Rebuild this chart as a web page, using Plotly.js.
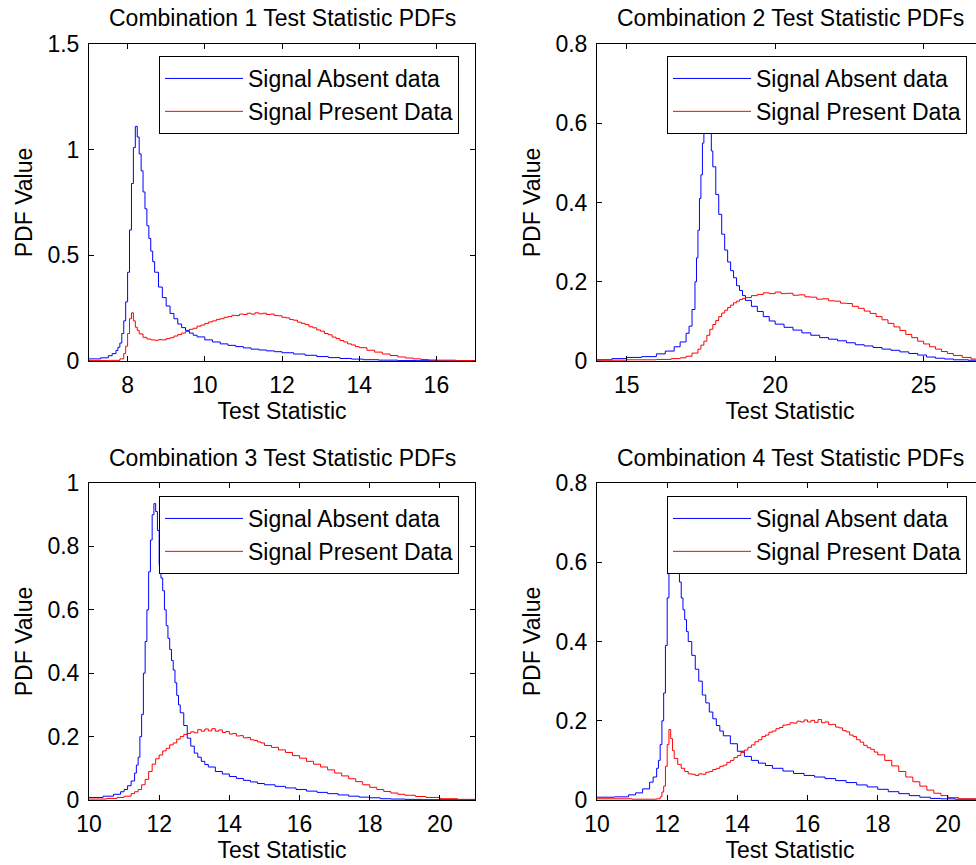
<!DOCTYPE html>
<html>
<head>
<meta charset="utf-8">
<script src="https://cdn.plot.ly/plotly-3.0.1.min.js"></script>
<style>
html,body{margin:0;padding:0;overflow:hidden;background:#ffffff;}
#chart{width:984px;height:865px;}
</style>
</head>
<body>
<div id="chart"></div>
<script>
// ---------------- data ----------------
const titles = ["Combination 1 Test Statistic PDFs", "Combination 2 Test Statistic PDFs",
                "Combination 3 Test Statistic PDFs", "Combination 4 Test Statistic PDFs"];
const seriesNames = ["Signal Absent data", "Signal Present Data"];
const xLabel = "Test Statistic";
const yLabel = "PDF Value";

// Combination 1
const c1AbsentX = [7.0, 7.3, 7.5, 7.6, 7.7, 7.75, 7.8, 7.85, 7.9, 7.95,
  8.0, 8.05, 8.1, 8.15, 8.2, 8.25, 8.3, 8.35, 8.4, 8.45,
  8.5, 8.55, 8.6, 8.65, 8.7, 8.8, 8.9, 9.0, 9.1, 9.2,
  9.3, 9.4, 9.5, 9.6, 9.7, 9.8, 10.0, 10.2, 10.4, 10.6,
  10.8, 11.0, 11.2, 11.4, 11.6, 11.8, 12.0, 12.3, 12.6, 12.9,
  13.2, 13.5, 13.8, 14.1, 14.5, 15.0, 15.5, 16.0, 17.0];
const c1AbsentY = [0.010, 0.015, 0.025, 0.035, 0.050, 0.065, 0.085, 0.130, 0.190, 0.280,
  0.420, 0.620, 0.840, 1.010, 1.110, 1.060, 0.980, 0.900, 0.800, 0.720,
  0.640, 0.580, 0.520, 0.470, 0.420, 0.350, 0.300, 0.260, 0.225, 0.200,
  0.175, 0.158, 0.145, 0.132, 0.122, 0.114, 0.100, 0.090, 0.081, 0.074,
  0.068, 0.062, 0.056, 0.052, 0.048, 0.044, 0.039, 0.033, 0.027, 0.021,
  0.016, 0.012, 0.009, 0.006, 0.004, 0.002, 0.0015, 0.001, 0.001];
const c1PresentX = [7.0, 7.5, 7.8, 7.9, 7.95, 8.0, 8.05, 8.1, 8.15, 8.2,
  8.25, 8.3, 8.4, 8.5, 8.6, 8.7, 8.8, 8.9, 9.0, 9.1,
  9.2, 9.3, 9.4, 9.5, 9.6, 9.7, 9.8, 9.9, 10.0, 10.1,
  10.2, 10.3, 10.4, 10.5, 10.6, 10.7, 10.8, 10.9, 11.0, 11.1,
  11.2, 11.3, 11.4, 11.5, 11.6, 11.7, 11.8, 11.9, 12.0, 12.1,
  12.2, 12.3, 12.4, 12.5, 12.6, 12.7, 12.8, 12.9, 13.0, 13.1,
  13.2, 13.3, 13.4, 13.5, 13.6, 13.7, 13.8, 13.9, 14.0, 14.2,
  14.4, 14.6, 14.8, 15.0, 15.2, 15.4, 15.6, 15.8, 16.0, 16.5,
  17.0];
const c1PresentY = [0.002, 0.003, 0.010, 0.035, 0.070, 0.130, 0.200, 0.228, 0.190, 0.160,
  0.145, 0.128, 0.112, 0.104, 0.100, 0.098, 0.101, 0.100, 0.106, 0.110,
  0.118, 0.125, 0.132, 0.140, 0.150, 0.155, 0.165, 0.170, 0.178, 0.185,
  0.190, 0.197, 0.200, 0.207, 0.210, 0.216, 0.215, 0.222, 0.220, 0.226,
  0.222, 0.228, 0.223, 0.226, 0.220, 0.222, 0.215, 0.214, 0.207, 0.204,
  0.196, 0.193, 0.184, 0.178, 0.172, 0.162, 0.157, 0.147, 0.141, 0.130,
  0.124, 0.113, 0.106, 0.097, 0.090, 0.081, 0.076, 0.068, 0.063, 0.051,
  0.042, 0.033, 0.026, 0.019, 0.014, 0.010, 0.007, 0.005, 0.004, 0.002,
  0.001];

// Combination 2
const c2AbsentX = [14.0, 14.5, 15.0, 15.5, 16.0, 16.3, 16.6, 16.8, 17.0, 17.1,
  17.2, 17.3, 17.35, 17.4, 17.45, 17.5, 17.55, 17.6, 17.7, 17.75,
  17.8, 17.85, 17.9, 18.0, 18.1, 18.2, 18.3, 18.4, 18.5, 18.6,
  18.7, 18.8, 18.9, 19.0, 19.2, 19.4, 19.6, 19.8, 20.0, 20.3,
  20.6, 20.9, 21.2, 21.5, 21.8, 22.1, 22.4, 22.7, 23.0, 23.3,
  23.6, 23.9, 24.2, 24.5, 24.8, 25.1, 25.4, 25.7, 26.0, 26.5,
  27.0];
const c2AbsentY = [0.003, 0.006, 0.009, 0.011, 0.018, 0.025, 0.036, 0.048, 0.070, 0.088,
  0.130, 0.200, 0.260, 0.330, 0.410, 0.470, 0.550, 0.600, 0.660, 0.640,
  0.580, 0.530, 0.490, 0.420, 0.370, 0.320, 0.280, 0.250, 0.228, 0.210,
  0.190, 0.178, 0.165, 0.153, 0.138, 0.125, 0.112, 0.101, 0.093, 0.085,
  0.078, 0.071, 0.065, 0.059, 0.055, 0.051, 0.046, 0.041, 0.038, 0.034,
  0.030, 0.027, 0.023, 0.019, 0.015, 0.010, 0.007, 0.005, 0.003, 0.002,
  0.001];
const c2PresentX = [14.0, 15.0, 16.0, 16.5, 16.8, 17.0, 17.2, 17.4, 17.5, 17.6,
  17.7, 17.8, 17.9, 18.0, 18.1, 18.2, 18.3, 18.4, 18.5, 18.6,
  18.7, 18.8, 18.9, 19.0, 19.2, 19.4, 19.6, 19.8, 20.0, 20.2,
  20.4, 20.6, 20.8, 21.0, 21.2, 21.4, 21.6, 21.8, 22.0, 22.2,
  22.4, 22.6, 22.8, 23.0, 23.2, 23.4, 23.6, 23.8, 24.0, 24.2,
  24.4, 24.6, 24.8, 25.0, 25.2, 25.4, 25.6, 25.8, 26.0, 26.3,
  26.6, 27.0];
const c2PresentY = [0.002, 0.003, 0.004, 0.006, 0.008, 0.012, 0.020, 0.030, 0.040, 0.050,
  0.065, 0.080, 0.092, 0.102, 0.112, 0.121, 0.128, 0.135, 0.141, 0.147,
  0.151, 0.155, 0.158, 0.160, 0.165, 0.168, 0.172, 0.170, 0.174, 0.170,
  0.171, 0.166, 0.167, 0.162, 0.161, 0.156, 0.157, 0.152, 0.151, 0.146,
  0.145, 0.138, 0.133, 0.126, 0.120, 0.112, 0.104, 0.095, 0.086, 0.077,
  0.067, 0.059, 0.050, 0.043, 0.036, 0.030, 0.024, 0.019, 0.014, 0.009,
  0.005, 0.003];

// Combination 3
const c3AbsentX = [10.0, 10.4, 10.7, 10.9, 11.0, 11.1, 11.2, 11.3, 11.35, 11.4,
  11.45, 11.5, 11.55, 11.6, 11.65, 11.7, 11.75, 11.8, 11.85, 11.9,
  11.95, 12.0, 12.05, 12.1, 12.15, 12.2, 12.25, 12.3, 12.35, 12.4,
  12.45, 12.5, 12.55, 12.6, 12.7, 12.8, 12.9, 13.0, 13.1, 13.2,
  13.3, 13.4, 13.6, 13.8, 14.0, 14.2, 14.4, 14.6, 14.8, 15.0,
  15.3, 15.6, 15.9, 16.2, 16.5, 16.8, 17.1, 17.4, 17.7, 18.0,
  18.3, 18.6, 19.0, 19.5, 20.0, 21.0];
const c3AbsentY = [0.008, 0.012, 0.018, 0.026, 0.033, 0.045, 0.060, 0.085, 0.110, 0.135,
  0.200, 0.270, 0.400, 0.500, 0.600, 0.720, 0.820, 0.900, 0.935, 0.910,
  0.850, 0.740, 0.700, 0.660, 0.600, 0.550, 0.510, 0.475, 0.440, 0.410,
  0.370, 0.330, 0.300, 0.275, 0.235, 0.195, 0.170, 0.148, 0.135, 0.122,
  0.112, 0.104, 0.090, 0.082, 0.074, 0.068, 0.062, 0.057, 0.052, 0.048,
  0.043, 0.038, 0.033, 0.028, 0.024, 0.020, 0.016, 0.012, 0.009, 0.007,
  0.004, 0.003, 0.002, 0.001, 0.001, 0.001];
const c3PresentX = [10.0, 10.5, 10.8, 11.0, 11.2, 11.3, 11.4, 11.5, 11.6, 11.7,
  11.8, 11.9, 12.0, 12.1, 12.2, 12.3, 12.4, 12.5, 12.6, 12.7,
  12.8, 12.9, 13.0, 13.1, 13.2, 13.3, 13.4, 13.5, 13.6, 13.7,
  13.8, 13.9, 14.0, 14.1, 14.2, 14.3, 14.4, 14.5, 14.6, 14.7,
  14.8, 14.9, 15.0, 15.2, 15.4, 15.6, 15.8, 16.0, 16.2, 16.4,
  16.6, 16.8, 17.0, 17.2, 17.4, 17.6, 17.8, 18.0, 18.2, 18.4,
  18.6, 18.8, 19.0, 19.3, 19.6, 20.0, 20.5, 21.0];
const c3PresentY = [0.003, 0.005, 0.008, 0.012, 0.020, 0.026, 0.033, 0.048, 0.065, 0.090,
  0.113, 0.130, 0.142, 0.155, 0.163, 0.174, 0.180, 0.192, 0.200, 0.207,
  0.210, 0.215, 0.212, 0.222, 0.217, 0.224, 0.218, 0.225, 0.217, 0.221,
  0.213, 0.216, 0.208, 0.210, 0.202, 0.203, 0.196, 0.197, 0.190, 0.188,
  0.183, 0.180, 0.172, 0.166, 0.158, 0.150, 0.140, 0.132, 0.122, 0.113,
  0.104, 0.095, 0.085, 0.076, 0.067, 0.058, 0.048, 0.040, 0.033, 0.027,
  0.022, 0.018, 0.015, 0.011, 0.008, 0.004, 0.002, 0.002];

// Combination 4
const c4AbsentX = [10.0, 10.5, 10.9, 11.1, 11.3, 11.5, 11.6, 11.7, 11.75, 11.8,
  11.85, 11.9, 11.95, 12.0, 12.05, 12.1, 12.2, 12.3, 12.35, 12.4,
  12.45, 12.5, 12.55, 12.6, 12.7, 12.8, 12.9, 13.0, 13.1, 13.2,
  13.3, 13.4, 13.5, 13.6, 13.8, 14.0, 14.2, 14.4, 14.6, 14.8,
  15.0, 15.3, 15.6, 15.9, 16.2, 16.5, 16.8, 17.1, 17.4, 17.7,
  18.0, 18.3, 18.6, 18.9, 19.2, 19.5, 19.8, 20.2, 21.0];
const c4AbsentY = [0.007, 0.008, 0.013, 0.018, 0.028, 0.045, 0.058, 0.080, 0.100, 0.140,
  0.200, 0.270, 0.390, 0.510, 0.590, 0.630, 0.640, 0.600, 0.550, 0.510,
  0.480, 0.455, 0.425, 0.400, 0.365, 0.330, 0.300, 0.265, 0.245, 0.222,
  0.205, 0.188, 0.174, 0.162, 0.142, 0.123, 0.110, 0.100, 0.093, 0.087,
  0.080, 0.073, 0.067, 0.062, 0.058, 0.054, 0.049, 0.044, 0.038, 0.033,
  0.027, 0.021, 0.016, 0.011, 0.007, 0.004, 0.003, 0.002, 0.001];
const c4PresentX = [10.0, 11.0, 11.7, 11.8, 11.85, 11.9, 11.95, 12.0, 12.05, 12.1,
  12.15, 12.2, 12.3, 12.4, 12.5, 12.6, 12.7, 12.8, 12.9, 13.0,
  13.1, 13.2, 13.3, 13.4, 13.5, 13.6, 13.7, 13.8, 13.9, 14.0,
  14.1, 14.2, 14.3, 14.4, 14.5, 14.6, 14.7, 14.8, 14.9, 15.0,
  15.1, 15.2, 15.3, 15.4, 15.5, 15.6, 15.7, 15.8, 15.9, 16.0,
  16.1, 16.2, 16.3, 16.4, 16.5, 16.6, 16.7, 16.8, 16.9, 17.0,
  17.1, 17.2, 17.3, 17.4, 17.5, 17.6, 17.7, 17.8, 17.9, 18.0,
  18.2, 18.4, 18.6, 18.8, 19.0, 19.2, 19.4, 19.6, 19.8, 20.0,
  20.3, 21.0];
const c4PresentY = [0.003, 0.002, 0.003, 0.008, 0.020, 0.035, 0.085, 0.140, 0.178, 0.155,
  0.125, 0.105, 0.090, 0.080, 0.072, 0.066, 0.065, 0.062, 0.066, 0.065,
  0.070, 0.072, 0.077, 0.080, 0.085, 0.088, 0.095, 0.100, 0.107, 0.112,
  0.120, 0.126, 0.133, 0.139, 0.147, 0.152, 0.160, 0.164, 0.171, 0.174,
  0.180, 0.183, 0.189, 0.190, 0.195, 0.194, 0.199, 0.197, 0.202, 0.197,
  0.201, 0.196, 0.203, 0.195, 0.197, 0.190, 0.191, 0.184, 0.182, 0.175,
  0.172, 0.164, 0.160, 0.152, 0.146, 0.138, 0.132, 0.128, 0.121, 0.114,
  0.100, 0.086, 0.072, 0.058, 0.046, 0.035, 0.025, 0.017, 0.011, 0.006,
  0.003, 0.002];

// axis ranges and ticks
const xRanges = [[7, 17], [14, 27], [10, 21], [10, 21]];
const yRanges = [[0, 1.5], [0, 0.8], [0, 1], [0, 0.8]];
const xTicks = [[8, 10, 12, 14, 16], [15, 20, 25], [10, 12, 14, 16, 18, 20], [10, 12, 14, 16, 18, 20]];
const yTicks = [[0, 0.5, 1, 1.5], [0, 0.2, 0.4, 0.6, 0.8], [0, 0.2, 0.4, 0.6, 0.8, 1], [0, 0.2, 0.4, 0.6, 0.8]];

// ---------------- figure ----------------
const W = 984, H = 865;
const FONT = "Liberation Sans, Arial, Helvetica, sans-serif";
const FS = 23;
const absentColor = "#0000ff", presentColor = "#ff0000";

const seriesX = [[c1AbsentX, c1PresentX], [c2AbsentX, c2PresentX], [c3AbsentX, c3PresentX], [c4AbsentX, c4PresentX]];
const seriesY = [[c1AbsentY, c1PresentY], [c2AbsentY, c2PresentY], [c3AbsentY, c3PresentY], [c4AbsentY, c4PresentY]];

// pixel boxes of the four axes [left, top, right, bottom]
const boxes = [[89, 44, 475, 361], [597, 44, 983, 361], [89, 483, 475, 800], [597, 483, 983, 800]];
// legend top-left corners in pixels
const legendPos = [[159, 56], [667, 56], [159, 496], [667, 496]];
// title centre y in pixels
const titleY = [18, 18, 458, 458];

const traces = [];
const layout = {
  width: W, height: H,
  margin: {l: 0, r: 0, t: 0, b: 0},
  paper_bgcolor: "#ffffff", plot_bgcolor: "#ffffff",
  font: {family: FONT, size: FS, color: "#000000"},
  annotations: [],
  showlegend: true
};

for (let i = 0; i < 4; i++) {
  const n = i === 0 ? "" : String(i + 1);
  const legId = "legend" + n;
  for (let s = 0; s < 2; s++) {
    traces.push({
      type: "scatter", mode: "lines",
      x: seriesX[i][s], y: seriesY[i][s],
      xaxis: "x" + n, yaxis: "y" + n,
      name: seriesNames[s], legend: legId,
      line: {color: s === 0 ? absentColor : presentColor, width: 1, shape: "hv"},
      hoverinfo: "x+y+name"
    });
  }
  const b = boxes[i];
  const common = {
    showline: true, linecolor: "#000000", linewidth: 1, mirror: "ticks",
    ticks: "inside", ticklen: 5, tickwidth: 1, tickcolor: "#000000",
    showgrid: false, zeroline: false, fixedrange: true,
    tickfont: {family: FONT, size: FS, color: "#000000"}
  };
  layout["xaxis" + n] = Object.assign({}, common, {
    domain: [b[0] / W, b[2] / W], anchor: "y" + n,
    range: xRanges[i], tickmode: "array", tickvals: xTicks[i],
    ticklabelstandoff: 3,
    title: {text: xLabel, font: {family: FONT, size: FS, color: "#000000"}, standoff: 4}
  });
  layout["yaxis" + n] = Object.assign({}, common, {
    domain: [1 - b[3] / H, 1 - b[1] / H], anchor: "x" + n,
    range: yRanges[i], tickmode: "array", tickvals: yTicks[i],
    ticklabelstandoff: 4,
    title: {text: yLabel, font: {family: FONT, size: FS, color: "#000000"}, standoff: 8}
  });
  layout[legId] = {
    x: legendPos[i][0] / W, y: 1 - legendPos[i][1] / H,
    xref: "paper", yref: "paper", xanchor: "left", yanchor: "top",
    bgcolor: "#ffffff", bordercolor: "#000000", borderwidth: 1,
    font: {family: FONT, size: FS, color: "#000000"},
    itemwidth: 78, tracegroupgap: 0
  };
  layout.annotations.push({
    text: titles[i], xref: "paper", yref: "paper",
    x: (b[0] + b[2]) / 2 / W, y: 1 - titleY[i] / H,
    xanchor: "center", yanchor: "middle", showarrow: false,
    font: {family: FONT, size: FS, color: "#000000"}
  });
}

Plotly.newPlot("chart", traces, layout, {displayModeBar: false, responsive: false});
</script>
</body>
</html>
